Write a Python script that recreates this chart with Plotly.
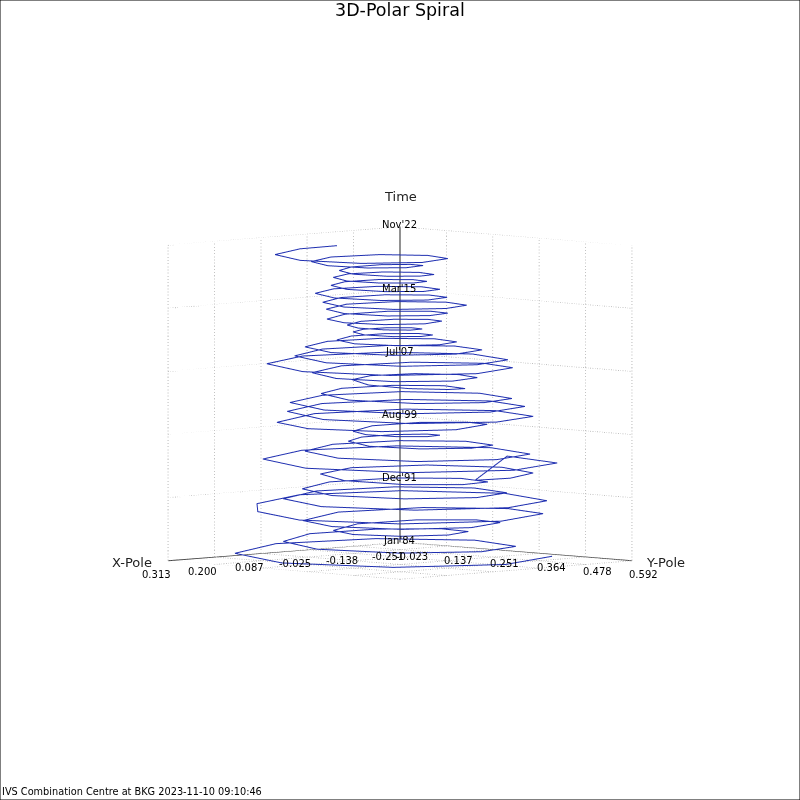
import plotly.graph_objects as go

# polar motion (x and y in mas, time in years since Jan 1984)
x_pole_mas = [
    -154, 39, 232, 311, 232, 61, -110, -181, -110, 32, 173, 232, 173, 61, -52, -99,
    -52, 30, 112, 146, 112, 11, -91, -133, -91, 29, 149, 198, 149, 3, -143, -204,
    -143, 30, 204, 275, 204, 205, 29, -148, -221, -148, 13, 173, 240, 173, 37, -99, -155,
    -99, 26, 150, 202, 150, 37, -76, -123, -76, 26, 128, 171, 128, -1, -131, -184,
    -131, -18, 61, -221, -160, 19, 198, 272, 198, 35, -127, -195,
    -127, 10, 147, 203, 147, 32, -82, -130, -82, 6, 94, 131, 94, 38, -18, -41,
    -18, 35, 88, 110, 88, 7, -75, -109, -75, 53, 181, 233, 181, 25, -131, -195,
    -131, 19, 168, 230, 168, 24, -121, -181, -121, 22, 165, 224, 165, 30, -105, -161,
    -105, 11, 127, 175, 127, 40, -48, -85, -48, 21, 89, 118, 89, 13, -63, -94,
    -63, 38, 138, 179, 138, 16, -106, -157, -106, 43, 193, 255, 193, 46, -100, -160,
    -100, 29, 159, 212, 159, 45, -69, -116, -69, 39, 147, 191, 147, 54, -38, -77,
    -38, 35, 108, 138, 108, 49, -9, -33, -9, 40, 88, 108, 88, 46, 4, -13,
    4, 50, 95, 114, 95, 38, -20, -44, -20, 50, 120, 148, 120, 46, -27, -58,
    -27, 47, 121, 151, 121, 35, -50, -86, -50, 37, 125, 161, 125, 49, -26, -58,
    -26, 54, 134, 167, 134, 58, -18, -49, -18, 49, 115, 142, 115, 57, -2, -26,
    -2, 55, 112, 136, 112, 51, -10, -35, -10, 47, 105, 129, 105, 54, 3, -18,
    3, 71, 139, 167, 139, 56, -27, -62, -27, 78, 183, 226, 183, 110, 47,
]
y_pole_mas = [
    486, 573, 486, 276, 66, -12, 66, 252, 438, 502, 438, 284, 130, 78, 130, 252,
    375, 411, 375, 285, 196, 150, 196, 306, 417, 471, 417, 286, 156, 90, 156, 315,
    474, 552, 474, 285, 96, 95, 15, 95, 287, 479, 552, 479, 304, 130, 69, 130, 278,
    426, 483, 426, 290, 155, 104, 155, 278, 401, 447, 401, 290, 179, 120, 179, 320,
    461, 523, 516, 294, 493, 573, 493, 298, 103, 29, 103, 280,
    457, 518, 457, 308, 159, 107, 159, 283, 408, 447, 408, 312, 216, 190, 216, 277,
    337, 361, 337, 280, 222, 185, 222, 311, 400, 457, 400, 261, 122, 51, 122, 291,
    461, 528, 461, 298, 135, 70, 135, 292, 450, 514, 450, 294, 139, 78, 139, 286,
    433, 485, 433, 306, 180, 140, 180, 275, 371, 402, 371, 296, 221, 187, 221, 304,
    387, 432, 387, 277, 168, 113, 168, 301, 434, 502, 434, 271, 108, 43, 108, 268,
    428, 486, 428, 286, 145, 94, 145, 269, 393, 442, 393, 276, 159, 117, 159, 259,
    360, 393, 360, 281, 201, 175, 201, 265, 328, 350, 328, 275, 222, 203, 222, 268,
    314, 334, 314, 264, 214, 188, 214, 277, 340, 371, 340, 264, 188, 155, 188, 268,
    348, 381, 348, 267, 187, 147, 187, 280, 373, 413, 373, 278, 182, 148, 182, 265,
    347, 383, 347, 259, 172, 138, 172, 255, 337, 367, 337, 265, 193, 167, 193, 257,
    320, 346, 320, 258, 196, 169, 196, 263, 330, 355, 330, 267, 204, 181, 204, 259,
    315, 345, 315, 241, 167, 129, 167, 257, 348, 395, 348, 233, 119, 106, 135,
]
years_since_1984 = [
    0.55, 0.64, 0.74, 0.83, 0.92, 1.13, 1.35, 1.56, 1.77, 1.92, 2.08, 2.23, 2.38, 2.69, 2.99, 3.30,
    3.60, 3.63, 3.67, 3.70, 3.73, 3.97, 4.22, 4.46, 4.70, 4.76, 4.83, 4.89, 4.95, 5.16, 5.38, 5.59,
    5.80, 5.86, 5.93, 5.99, 6.05, 7.03, 7.12, 7.21, 7.30, 7.39, 7.45, 7.52, 7.58, 7.64, 7.82, 8.01, 8.19,
    8.37, 8.49, 8.62, 8.74, 8.86, 9.07, 9.29, 9.50, 9.71, 9.96, 10.20, 10.45, 10.69, 10.72, 10.75, 10.78,
    10.81, 10.85, 10.88, 11.91, 12.04, 12.16, 12.29, 12.41, 12.53, 12.68, 12.84, 12.99,
    13.14, 13.23, 13.32, 13.41, 13.50, 13.69, 13.87, 14.06, 14.24, 14.36, 14.48, 14.60, 14.72, 14.91, 15.09, 15.28,
    15.46, 15.58, 15.71, 15.83, 15.95, 16.16, 16.38, 16.59, 16.80, 16.86, 16.93, 16.99, 17.05, 17.23, 17.42, 17.60,
    17.78, 17.93, 18.09, 18.24, 18.39, 18.54, 18.70, 18.85, 19.00, 19.12, 19.25, 19.37, 19.49, 19.61, 19.74, 19.86,
    19.98, 20.13, 20.29, 20.44, 20.59, 20.74, 20.90, 21.05, 21.20, 21.48, 21.75, 22.03, 22.30, 22.36, 22.43, 22.49,
    22.55, 22.70, 22.86, 23.01, 23.16, 23.31, 23.47, 23.62, 23.77, 23.89, 24.02, 24.14, 24.26, 24.38, 24.51, 24.63,
    24.75, 24.87, 24.99, 25.11, 25.23, 25.42, 25.60, 25.79, 25.97, 26.06, 26.16, 26.25, 26.34, 26.49, 26.65, 26.80,
    26.95, 27.01, 27.07, 27.13, 27.19, 27.34, 27.50, 27.65, 27.80, 27.89, 27.99, 28.08, 28.17, 28.26, 28.36, 28.45,
    28.54, 28.66, 28.79, 28.91, 29.03, 29.15, 29.27, 29.39, 29.51, 29.57, 29.64, 29.70, 29.76, 29.94, 30.13, 30.31,
    30.49, 30.61, 30.74, 30.86, 30.98, 31.10, 31.23, 31.35, 31.47, 31.56, 31.65, 31.74, 31.83, 31.98, 32.14, 32.29,
    32.44, 32.56, 32.69, 32.81, 32.93, 33.05, 33.18, 33.30, 33.42, 33.54, 33.67, 33.79, 33.91, 34.03, 34.16, 34.28,
    34.40, 34.52, 34.65, 34.77, 34.89, 34.98, 35.07, 35.16, 35.25, 35.37, 35.50, 35.62, 35.74, 35.89, 36.05, 36.20,
    36.35, 36.47, 36.60, 36.72, 36.84, 36.93, 37.03, 37.12, 37.21, 37.33, 37.46, 37.58, 37.70, 38.07, 38.31,
]

x_ticks = [0.313, 0.200, 0.087, -0.025, -0.138, -0.251]
y_ticks = [-0.023, 0.137, 0.251, 0.364, 0.478, 0.592]
y_grid = [-0.023, 0.100, 0.223, 0.346, 0.469, 0.592]
y_labels = ["-0.023", "0.137", "0.251", "0.364", "0.478", "0.592"]
time_ticks = [0, 7.77, 15.54, 23.31, 31.08, 38.85]
time_labels = ["Jan'84", "Dec'91", "Aug'99", "Jul'07", "Mar'15", "Nov'22"]

x_min, x_max = min(x_ticks), max(x_ticks)
y_min, y_max = min(y_ticks), max(y_ticks)
t_max = max(time_ticks)
FONT = "DejaVu Sans"
GRID = "#b0b0b0"


def seg(fig, xs, ys, zs, color, width=1, dash="solid"):
    fig.add_trace(go.Scatter3d(x=xs, y=ys, z=zs, mode="lines", hoverinfo="skip", showlegend=False,
                               line=dict(color=color, width=width, dash=dash)))


fig = go.Figure()

# walls and floor, dotted
for t in time_ticks:
    seg(fig, [x_max, x_min, x_min], [y_min, y_min, y_max], [t, t, t], GRID, width=1.6, dash="dot")
for x in x_ticks:
    seg(fig, [x, x, x], [y_max, y_min, y_min], [0, 0, t_max], GRID, width=1.6, dash="dot")
for y in y_grid:
    seg(fig, [x_max, x_min, x_min], [y, y, y], [0, 0, t_max], GRID, width=1.6, dash="dot")

# the three axes
seg(fig, [x_max, x_min, x_min], [y_min, y_min, y_max], [0, 0, 0], "#444444", width=2)
seg(fig, [x_min, x_min], [y_min, y_min], [0, t_max], "#222222", width=2)

fig.add_trace(go.Scatter3d(x=[v / 1000 for v in x_pole_mas], y=[v / 1000 for v in y_pole_mas],
                           z=years_since_1984, mode="lines", hoverinfo="skip", showlegend=False,
                           line=dict(color="#1f2fb0", width=2)))

notes = []
for v in x_ticks:
    notes.append(dict(x=v, y=y_min, z=0, text=f"{v:.3f}", xshift=-12, yshift=-14))
for v, lab in zip(y_grid, y_labels):
    notes.append(dict(x=x_min, y=v, z=0, text=lab, xshift=12, yshift=-14))
for v, lab in zip(time_ticks, time_labels):
    notes.append(dict(x=x_min, y=y_min, z=v, text=lab, xshift=-1, yshift=2))
for n in notes:
    n.update(showarrow=False, font=dict(family=FONT, size=10, color="black"))
notes.append(dict(x=x_max, y=y_min, z=0, text="X-Pole", xshift=-36, yshift=-2, showarrow=False,
                  font=dict(family=FONT, size=13, color="#222222")))
notes.append(dict(x=x_min, y=y_max, z=0, text="Y-Pole", xshift=34, yshift=-2, showarrow=False,
                  font=dict(family=FONT, size=13, color="#222222")))
notes.append(dict(x=x_min, y=y_min, z=t_max, text="Time", yshift=30, showarrow=False,
                  font=dict(family=FONT, size=13, color="#222222")))

hidden = dict(visible=False)
fig.update_layout(
    width=800, height=800, margin=dict(l=0, r=0, t=0, b=0),
    paper_bgcolor="white", showlegend=False,
    scene=dict(
        domain=dict(x=[0.09, 0.91], y=[0.086, 0.906]),
        xaxis=dict(range=[x_min, x_max], **hidden),
        yaxis=dict(range=[y_min, y_max], **hidden),
        zaxis=dict(range=[0, t_max], **hidden),
        aspectmode="manual", aspectratio=dict(x=1, y=1, z=0.965),
        camera=dict(projection=dict(type="orthographic"), eye=dict(x=1.524, y=1.524, z=0.172),
                    center=dict(x=0, y=0, z=0), up=dict(x=0, y=0, z=1)),
        annotations=notes,
    ),
    annotations=[
        dict(x=0.5, y=1, xref="paper", yref="paper", yanchor="top", yshift=2, text="3D-Polar Spiral", showarrow=False,
             font=dict(family=FONT, size=17.5, color="black")),
        dict(x=0, y=0, xref="paper", yref="paper", xanchor="left", yanchor="bottom", xshift=0, yshift=1,
             text="IVS Combination Centre at BKG 2023-11-10 09:10:46", showarrow=False,
             font=dict(family=FONT, size=9.75, color="black")),
    ],
    shapes=[dict(type="rect", xref="paper", yref="paper", x0=0, y0=0, x1=1, y1=1, line=dict(color="black", width=1))],
)

fig.write_html("out.html", config=dict(displayModeBar=False),
               post_script="document.body.style.margin='0';document.body.style.overflow='hidden';")
